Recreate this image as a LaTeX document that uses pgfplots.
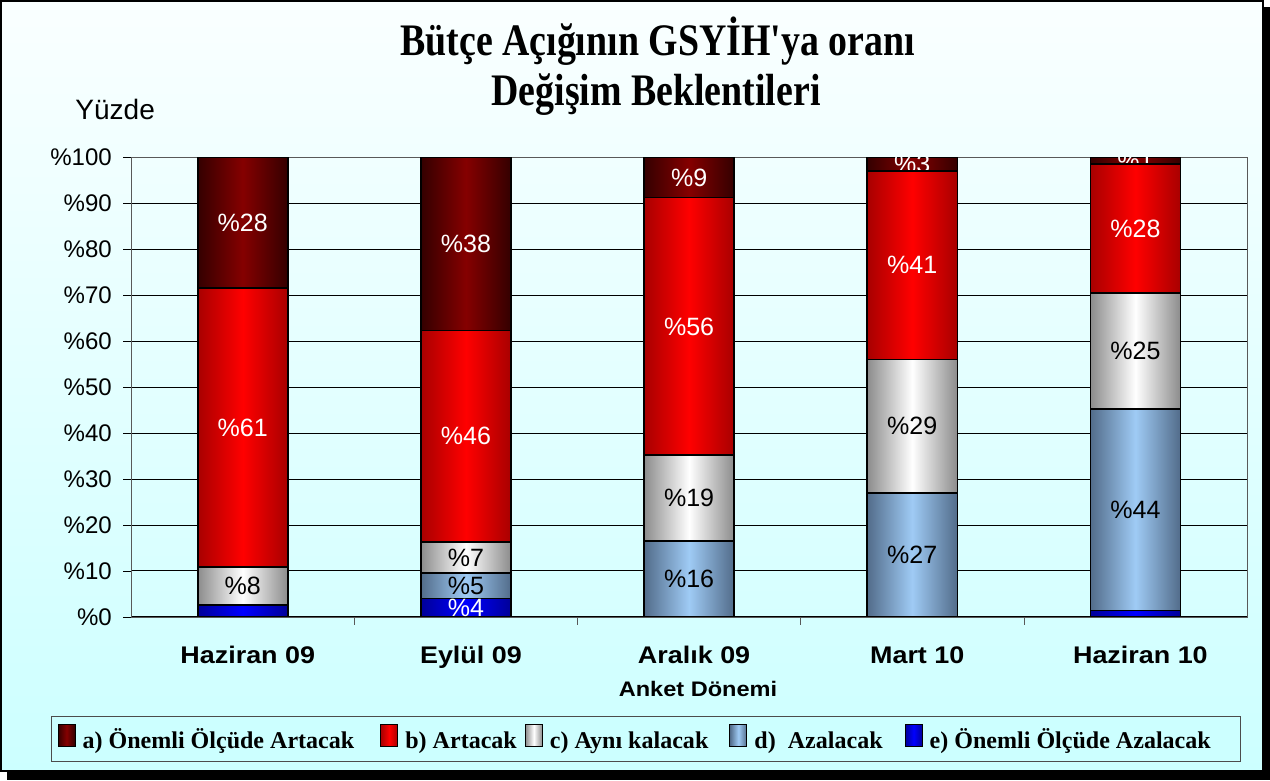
\documentclass[border=0pt]{standalone}
\usepackage{fontspec}
\setmainfont{Liberation Sans}
\newfontfamily\sansw[FakeStretch=1.12]{Liberation Sans}
\newfontfamily\titlefont[FakeStretch=0.84]{Liberation Serif}
\newfontfamily\legfont{Liberation Serif}
\usepackage{pgfplots}
\pgfplotsset{compat=1.18}
\definecolor{aDark}{HTML}{340000}
\definecolor{aMid}{HTML}{850000}
\definecolor{bDark}{HTML}{A80000}
\definecolor{bMid}{HTML}{FF0000}
\definecolor{cDark}{HTML}{8C8C8C}
\definecolor{cMid}{HTML}{FFFFFF}
\definecolor{dDark}{HTML}{526C8A}
\definecolor{dMid}{HTML}{9FCBF5}
\definecolor{eDark}{HTML}{000098}
\definecolor{eMid}{HTML}{0000FF}
\definecolor{bgTop}{HTML}{FAFFFF}
\definecolor{bgBot}{HTML}{CCFFFF}
\definecolor{plTop}{HTML}{F0FFFF}
\definecolor{plBot}{HTML}{D6FFFF}
\pgfplotsset{
  sq/.style={legend image code/.code={\draw[##1, line width=0.5pt] (0pt,-2pt) rectangle (8.5pt,9pt);}},
  segA/.style={sq, draw=black, line width=0.8pt, left color=aDark, right color=aDark, middle color=aMid, every node near coord/.append style={text=white}},
  segB/.style={sq, draw=black, line width=0.8pt, left color=bDark, right color=bDark, middle color=bMid, every node near coord/.append style={text=white}},
  segC/.style={sq, draw=black, line width=0.8pt, left color=cDark, right color=cDark, middle color=cMid, every node near coord/.append style={text=black}},
  segD/.style={sq, draw=black, line width=0.8pt, left color=dDark, right color=dDark, middle color=dMid, every node near coord/.append style={text=black}},
  segE/.style={sq, draw=black, line width=0.8pt, left color=eDark, right color=eDark, middle color=eMid, every node near coord/.append style={text=white}},
  base/.style={
    at={(66pt,81.5pt)}, anchor=south west, scale only axis,
    width=557pt, height=229.5pt,
    ybar stacked, bar width=45pt,
    ymin=0, ymax=100, xmin=-0.5, xmax=4.5,
    nodes near coords,
    point meta=explicit symbolic,
    every node near coord/.append style={anchor=center, font=\fontsize{12.5}{14}\selectfont},
    clip mode=individual, clip marker paths=true,
  },
  over/.style={base, hide axis, axis background/.style={}},
}
\begin{document}
\begin{tikzpicture}
\fill[black] (4pt,0pt) rectangle (634.5pt,386pt);
\draw[black, line width=1pt, top color=bgTop, bottom color=bgBot] (1pt,4.5pt) rectangle (631pt,389pt);
\node[font=\titlefont\bfseries\fontsize{22.5}{27}\selectfont] at (328.75pt,369pt) {Bütçe Açığının GSYİH'ya oranı};
\node[font=\titlefont\bfseries\fontsize{22.5}{27}\selectfont] at (328pt,342.5pt) {Değişim Beklentileri};
\node[font=\fontsize{14}{16}\selectfont] at (58pt,335pt) {Yüzde};
% Category: Haziran 09 (with all axis decorations and legend)
\begin{axis}[base,
  axis background/.style={top color=plTop, bottom color=plBot},
  axis line style={draw=gray!70!black},
  ymajorgrids, grid style={black, line width=0.5pt},
  tick pos=left,
  ytick={0,10,...,100},
  yticklabel={\%\pgfmathprintnumber{\tick}},
  /pgf/number format/assume math mode=true,
  yticklabel style={font=\fontsize{12}{14}\selectfont, inner sep=0pt, xshift=-5.5pt},
  ytick style={black}, major tick length=4pt, tick align=outside,
  xtick={0,1,2,3,4},
  xticklabels={Haziran 09, Eylül 09, Aralık 09, Mart 10, Haziran 10},
  x tick style={draw=none},
  xticklabel style={font=\sansw\bfseries\fontsize{12}{14}\selectfont, anchor=base, yshift=-19pt, xshift=2.5pt},
  extra x ticks={0.5,1.5,2.5,3.5},
  extra x tick labels={},
  extra x tick style={grid=none, x tick style={draw=gray!70!black}},
  xlabel={Anket Dönemi},
  xlabel style={at={(axis description cs:0.508,0)}, anchor=center, yshift=-36pt, font=\sansw\bfseries\fontsize{10.5}{13}\selectfont},
  legend columns=5, reverse legend,
  legend style={at={(-0.0718,-0.2157)}, anchor=north west, draw=black!70, fill=bgBot,
    font=\legfont\bfseries\fontsize{12}{14}\selectfont,
    nodes={inner xsep=0pt, inner ysep=0pt, text height=9pt, text depth=2.5pt},
    /tikz/every odd column/.append style={column sep=3.5pt},
    /tikz/every even column/.append style={column sep=0pt},
    inner xsep=3pt, inner ysep=3.6pt},
]
\addplot[segE] coordinates {(0,2.6) []};
\addplot[segD] coordinates {(0,0) []};
\addplot[segC] coordinates {(0,8.3) [\%8]};
\addplot[segB] coordinates {(0,60.6) [\%61]};
\addplot[segA] coordinates {(0,28.5) [\%28]};
\legend{e) Önemli Ölçüde Azalacak\kern12pt, d)\ \ Azalacak\kern11pt, c) Aynı kalacak\kern10.5pt, b) Artacak\kern4pt, a) Önemli Ölçüde Artacak\kern13pt}
\end{axis}
% Eylül 09
\begin{axis}[over]
\addplot[segE] coordinates {(1,4) [\%4]};
\addplot[segD] coordinates {(1,5.5) [\%5]};
\addplot[segC] coordinates {(1,6.8) [\%7]};
\addplot[segB] coordinates {(1,46) [\%46]};
\addplot[segA] coordinates {(1,37.7) [\%38]};
\end{axis}
% Aralık 09
\begin{axis}[over]
\addplot[segD] coordinates {(2,16.5) [\%16]};
\addplot[segC] coordinates {(2,18.7) [\%19]};
\addplot[segB] coordinates {(2,56) [\%56]};
\addplot[segA] coordinates {(2,8.8) [\%9]};
\end{axis}
% Mart 10
\begin{axis}[over]
\addplot[segD] coordinates {(3,27) [\%27]};
\addplot[segC] coordinates {(3,29) [\%29]};
\addplot[segB] coordinates {(3,41) [\%41]};
\addplot[segA] coordinates {(3,3) [\%3]};
\end{axis}
% Haziran 10
\begin{axis}[over]
\addplot[segE] coordinates {(4,1.4) []};
\addplot[segD] coordinates {(4,43.8) [\%44]};
\addplot[segC] coordinates {(4,25.3) [\%25]};
\addplot[segB] coordinates {(4,28) [\%28]};
\addplot[segA] coordinates {(4,1.5) [\%1]};
\end{axis}
\end{tikzpicture}
\end{document}
